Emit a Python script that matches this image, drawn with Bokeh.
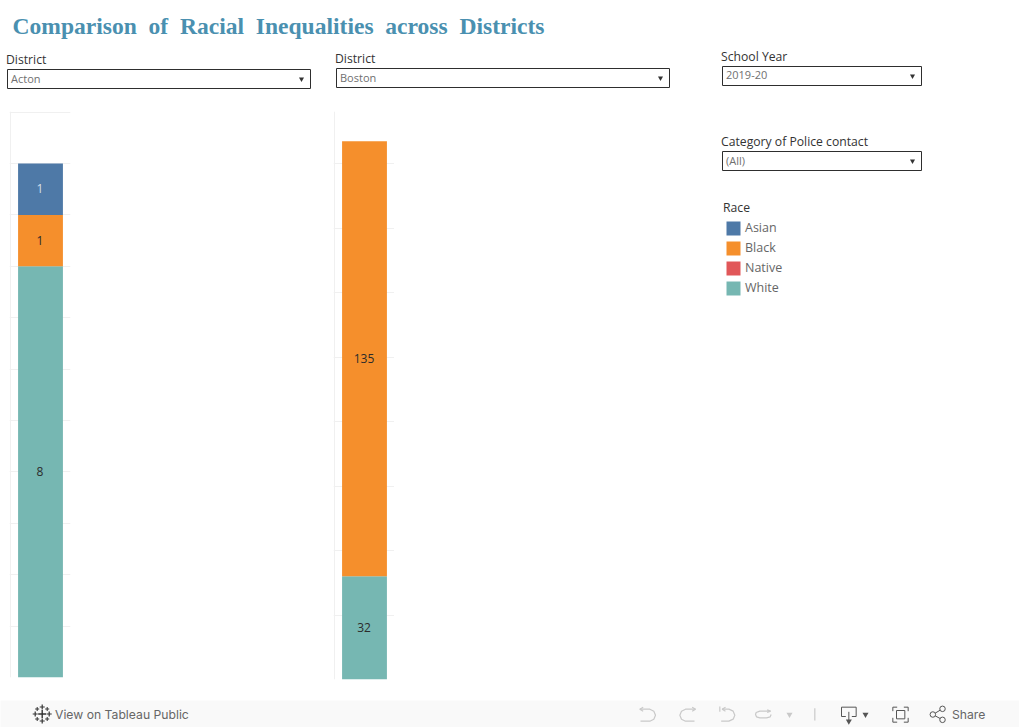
from bokeh.plotting import figure
from bokeh.layouts import column, row
from bokeh.models import ColumnDataSource, Range1d, FixedTicker
from bokeh.core.properties import value
from bokeh.embed import file_html
from bokeh.resources import INLINE

TITLE = "Comparison\u00a0 of\u00a0 Racial\u00a0 Inequalities\u00a0 across\u00a0 Districts"
races = ["Asian", "Black", "Native", "White"]
colors = ["#4e79a7", "#f58f2c", "#e15759", "#76b7b2"]
acton_values = [1, 1, 0, 8]
boston_values = [0, 135, 0, 32]
acton_ticks = [1, 2, 3, 4, 5, 6, 7, 8, 9, 10, 11]
boston_ticks = [20, 40, 60, 80, 100, 120, 140, 160]
acton_top = 11.012
boston_top = 176.2
districts = ["Acton", "Boston"]
school_year = "2019-20"
category = "(All)"

FONT = value("Open Sans")
INK = "#333333"
GRID = "#f0f0f0"


def chrome(width, height, x0, x1, y0, y1, bg="#ffffff"):
    p = figure(frame_width=width, frame_height=height, x_range=Range1d(x0, x1), y_range=Range1d(y1, y0),
               toolbar_location=None, output_backend="svg", min_border=0,
               background_fill_color=bg, border_fill_color=bg, outline_line_color=None)
    p.axis.visible = False
    p.grid.visible = False
    return p


def txt(p, x, y, s, size=12.2, color=INK, font=FONT, style="normal"):
    p.text([x], [y], text=[s], text_font=font, text_font_size=f"{size}px", text_color=color,
           text_font_style=style, text_baseline="middle", text_align="left")


def dropdown(p, label, val, x0, x1, y0, y1, lx, ly):
    txt(p, lx - 0.5, ly - 1, label)
    p.quad(left=[x0], right=[x1], top=[y0], bottom=[y1], fill_color="#ffffff",
           line_color="#2e2e2e", line_width=1)
    txt(p, x0 + 3.5, (y0 + y1) / 2 - 1, val, 11, "#707070")
    p.scatter([x1 - 9], [(y0 + y1) / 2], marker="inverted_triangle", size=5,
              fill_color="#333333", line_color=None)


def chart(vals, top, ticks, frame_h, left, right, bottom):
    p = figure(frame_width=61, frame_height=frame_h, x_range=Range1d(-1.5 / 59, 1 + 0.5 / 59),
               y_range=Range1d(0, top),
               toolbar_location=None, output_backend="svg", min_border_left=left,
               min_border_right=right, min_border_top=0, min_border_bottom=bottom,
               outline_line_color=None)
    p.axis.visible = False
    p.ygrid.ticker = FixedTicker(ticks=ticks)
    p.xgrid.ticker = FixedTicker(ticks=[-0.5 / 59])
    p.grid.grid_line_color = GRID
    p.grid.grid_line_width = 1
    order = list(reversed(races))
    data = {"x": [0.5]}
    for r, v in zip(races, vals):
        data[r] = [v]
    p.vbar_stack(order, x="x", width=0.76, source=ColumnDataSource(data),
                 color=list(reversed(colors)), line_color=None)
    ys, labels, cols = [], [], []
    base = 0
    for r in order:
        v = vals[races.index(r)]
        if v > 0:
            ys.append(base + v / 2)
            labels.append(str(v))
            cols.append("#d5dfea" if r == "Asian" else "#2b2b2b")
        base += v
    p.text(x=[0.5] * len(ys), y=ys, text=labels, text_color=cols, text_font=FONT,
           text_font_size="12px", text_align="center", text_baseline="middle",
           x_offset=-0.5, y_offset=-0.5)
    return p


# ---------- header ----------
head = chrome(1019, 111, 0, 1019, 0, 111)
txt(head, 12, 25.5, TITLE, 23.55, "#4a90b0", value("Liberation Serif"), "bold")
dropdown(head, "District", districts[0], 7, 310, 69, 88, 6, 59.5)
dropdown(head, "District", districts[1], 336, 669, 68, 87, 335, 58.5)
dropdown(head, "School Year", school_year, 722, 921, 66, 85, 721, 57)

# ---------- charts ----------
acton = chart(acton_values, acton_top, acton_ticks, 566, 9, 263, 23)
boston = chart(boston_values, boston_top, boston_ticks, 568, 0, 0, 21)

# ---------- side panel ----------
side = chrome(625, 589, 394, 1019, 111, 700)
dropdown(side, "Category of Police contact", category, 722, 921, 151, 170, 721, 142)
txt(side, 722.5, 207, "Race")
ly = [228, 248, 268, 288]
for y, r, c in zip(ly, races, colors):
    side.quad(left=[726], right=[740], top=[y - 7], bottom=[y + 7], fill_color=c, line_color=None)
    txt(side, 744.5, y - 1, r, 12.5, "#666666")

# ---------- footer ----------
foot = chrome(1019, 27, 0, 1019, 700, 727, bg="#f9f9f9")
for x, y, s, w in [(41.7, 713.5, 8, 1.4),
                   (41.7, 706.5, 5, 1.2), (41.7, 720.5, 5, 1.2), (34.7, 713.5, 5, 1.2), (48.7, 713.5, 5, 1.2),
                   (36.7, 708.5, 4, 1), (46.7, 708.5, 4, 1), (36.7, 718.5, 4, 1), (46.7, 718.5, 4, 1)]:
    foot.scatter([x], [y], marker="cross", size=s, line_color="#333333", line_width=w)
txt(foot, 54.5, 713.5, "View on Tableau Public", 12.2, "#666666", value("Inter"))


def zx(v):
    return 620 + v / 3


def zy(v):
    return 690 + v / 3


def icon(pts, color="#c9c9c9", w=1.2):
    foot.line([zx(a) for a, _ in pts], [zy(b) for _, b in pts], line_color=color, line_width=w)


def tri(x, y, color):
    foot.scatter([zx(x)], [zy(y)], marker="inverted_triangle", size=6, fill_color=color, line_color=None)


icon([(68, 50), (58, 56), (68, 62)])
icon([(58, 56), (88, 56), (100, 62), (105, 74), (100, 86), (88, 92), (60, 92)])
icon([(215, 50), (225, 56), (215, 62)])
icon([(225, 56), (195, 56), (183, 62), (178, 74), (183, 86), (195, 92), (222, 92)])
icon([(298, 48), (298, 64)])
icon([(315, 50), (305, 56), (315, 62)])
icon([(305, 56), (325, 56), (338, 62), (343, 74), (338, 86), (325, 92), (302, 92)])
icon([(440, 58), (450, 62), (440, 66)])
icon([(450, 62), (418, 62), (407, 66), (405, 72), (408, 79), (418, 82), (438, 82), (449, 79), (452, 72)])
tri(507, 72, "#c9c9c9")
icon([(583, 53), (583, 90)])
icon([(676, 78), (663, 78), (663, 50), (707, 50), (707, 78), (694, 78)], "#555555", 1)
icon([(685, 64), (685, 92)], "#555555", 1)
tri(685, 92, "#555555")
tri(735, 72, "#555555")
for pts in ([(817, 62), (817, 50), (830, 50)], [(850, 50), (863, 50), (863, 62)],
            [(863, 82), (863, 95), (850, 95)], [(830, 95), (817, 95), (817, 82)],
            [(828, 60), (853, 60), (853, 85), (828, 85), (828, 60)]):
    icon(pts, "#555555", 1)
foot.scatter([zx(937), zx(966), zx(966)], [zy(72), zy(55), zy(88)], marker="circle", size=5.5,
             fill_color="#f9f9f9", line_color="#555555", line_width=1)
icon([(944, 68), (959, 59)], "#555555", 1)
icon([(944, 76), (959, 84)], "#555555", 1)
txt(foot, 951.5, 713.5, "Share", 12.2, "#666666", value("Inter"))

page = column(head, row(acton, boston, side, spacing=0), foot, spacing=0)
open("out.html", "w").write(file_html(page, INLINE))
